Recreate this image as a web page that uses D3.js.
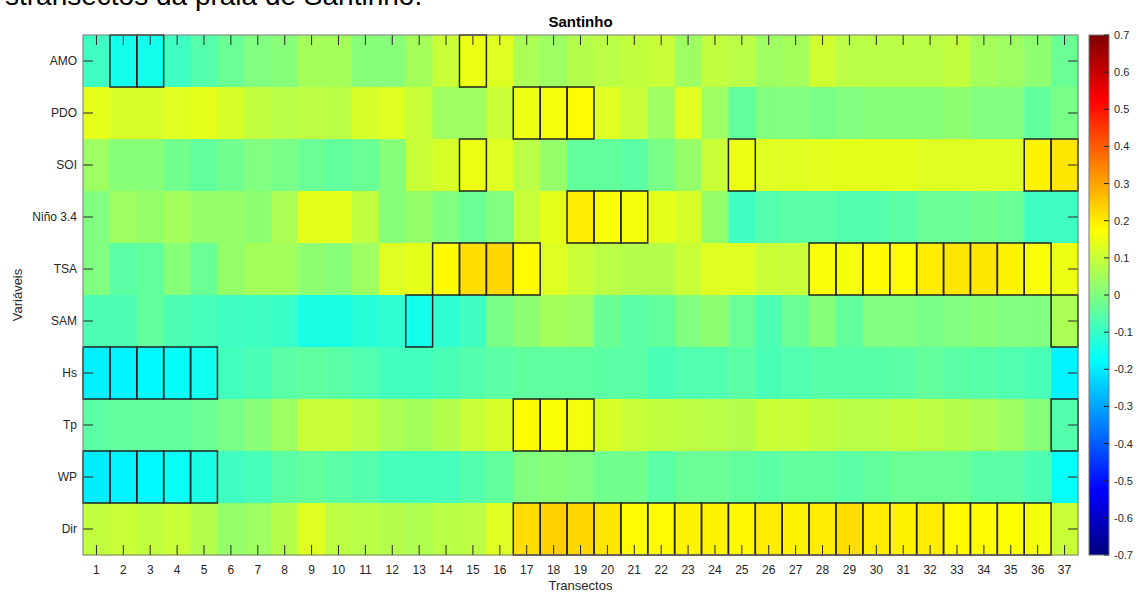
<!DOCTYPE html>
<html>
<head>
  <meta charset="utf-8">
  <title>Santinho</title>
  <script src="https://d3js.org/d3.v7.min.js"></script>
  <style>
    body { margin: 0; background: #fff; font-family: "Liberation Sans", Arial, sans-serif; }
    text { fill: #262626; }
  </style>
</head>
<body>
  <div id="chart"></div>
  <script>
    // Correlation values per variable, transect 1..37
    const transects = d3.range(1, 38);
    const variables = ["AMO", "PDO", "SOI", "Niño 3.4", "TSA", "SAM", "Hs", "Tp", "WP", "Dir"];

    const amo = [-0.09, -0.15, -0.15, -0.09, -0.06, -0.03, 0.00, 0.01, 0.05, 0.05, 0.01, 0.01, 0.05,
                 0.10, 0.15, 0.13, 0.06, 0.04, 0.07, 0.08, 0.09, 0.10, 0.04, 0.09, 0.08,
                 0.04, 0.05, 0.11, 0.08, 0.08, 0.08, 0.08, 0.09, 0.05, 0.04, 0.02, -0.03];
    const pdo = [0.14, 0.12, 0.12, 0.13, 0.14, 0.12, 0.09, 0.08, 0.085, 0.08, 0.12, 0.13, 0.10,
                 0.04, 0.04, 0.10, 0.15, 0.16, 0.18, 0.13, 0.10, 0.04, 0.13, 0.04, -0.04,
                 0.00, 0.00, -0.01, 0.00, 0.01, 0.01, 0.01, 0.02, 0.00, 0.00, -0.04, -0.01];
    const soi = [0.04, 0.01, 0.01, -0.02, -0.04, -0.02, 0.00, -0.01, -0.03, -0.04, -0.03, 0.01, 0.10,
                 0.12, 0.15, 0.13, 0.08, 0.03, -0.04, -0.04, -0.05, -0.01, 0.03, 0.10, 0.15,
                 0.13, 0.13, 0.135, 0.14, 0.14, 0.14, 0.13, 0.13, 0.13, 0.13, 0.19, 0.21];
    const nino34 = [0.00, 0.04, 0.03, 0.05, 0.03, 0.03, 0.02, 0.06, 0.14, 0.14, 0.09, 0.01, 0.03,
                    0.00, -0.03, 0.00, 0.10, 0.14, 0.20, 0.165, 0.16, 0.14, 0.12, 0.03, -0.09,
                    -0.06, -0.05, -0.05, -0.06, -0.06, -0.05, -0.03, -0.03, -0.02, -0.03, -0.09, -0.09];
    const tsa = [0.00, -0.05, -0.04, 0.01, -0.03, 0.03, 0.05, 0.05, 0.02, 0.01, 0.04, 0.13, 0.14,
                 0.18, 0.22, 0.23, 0.18, 0.13, 0.10, 0.08, 0.07, 0.07, 0.10, 0.13, 0.13,
                 0.10, 0.10, 0.165, 0.16, 0.18, 0.18, 0.20, 0.21, 0.21, 0.19, 0.165, 0.15];
    const sam = [-0.07, -0.07, -0.04, -0.07, -0.08, -0.09, -0.09, -0.10, -0.14, -0.14, -0.12, -0.11, -0.15,
                 -0.11, -0.09, -0.01, 0.02, 0.05, 0.04, -0.03, -0.05, -0.04, 0.00, 0.02, -0.03,
                 -0.07, -0.03, 0.01, -0.04, 0.00, 0.00, -0.01, 0.00, 0.01, 0.00, 0.00, 0.06];
    const hs = [-0.195, -0.19, -0.18, -0.17, -0.155, -0.085, -0.075, -0.05, -0.045, -0.05, -0.065, -0.085, -0.085,
                -0.075, -0.06, -0.05, -0.045, -0.045, -0.045, -0.05, -0.05, -0.075, -0.065, -0.065, -0.05,
                -0.075, -0.065, -0.055, -0.055, -0.055, -0.05, -0.04, -0.05, -0.055, -0.065, -0.075, -0.19];
    const tp = [-0.05, -0.04, -0.04, -0.04, -0.03, -0.01, 0.01, 0.04, 0.10, 0.10, 0.085, 0.06, 0.05,
                0.07, 0.10, 0.12, 0.18, 0.17, 0.16, 0.12, 0.10, 0.09, 0.085, 0.08, 0.07,
                0.10, 0.10, 0.09, 0.08, 0.08, 0.09, 0.085, 0.07, 0.06, 0.04, 0.01, -0.06];
    const wp = [-0.20, -0.19, -0.18, -0.165, -0.14, -0.09, -0.08, -0.05, -0.04, -0.05, -0.06, -0.08, -0.08,
                -0.08, -0.06, -0.04, 0.00, 0.01, 0.00, -0.02, -0.02, -0.05, -0.03, -0.03, -0.04,
                -0.05, -0.04, -0.04, -0.05, -0.04, -0.03, -0.03, -0.03, -0.05, -0.05, -0.07, -0.17];
    const dir = [0.09, 0.10, 0.09, 0.10, 0.07, 0.03, 0.04, 0.07, 0.13, 0.085, 0.08, 0.07, 0.065,
                 0.08, 0.085, 0.13, 0.22, 0.24, 0.23, 0.21, 0.18, 0.18, 0.19, 0.19, 0.185,
                 0.20, 0.19, 0.20, 0.22, 0.20, 0.19, 0.20, 0.18, 0.18, 0.175, 0.16, 0.10];

    // transects outlined as significant
    const signif = {
      "AMO": [2, 3, 15],
      "PDO": [17, 18, 19],
      "SOI": [15, 25, 36, 37],
      "Niño 3.4": [19, 20, 21],
      "TSA": [14, 15, 16, 17, 28, 29, 30, 31, 32, 33, 34, 35, 36],
      "SAM": [13, 37],
      "Hs": [1, 2, 3, 4, 5],
      "Tp": [17, 18, 19, 37],
      "WP": [1, 2, 3, 4, 5],
      "Dir": d3.range(17, 37)
    };

    const colorTicks = d3.range(-7, 8).map(d => d / 10);

    const series = [amo, pdo, soi, nino34, tsa, sam, hs, tp, wp, dir];
    const cells = [];
    variables.forEach((v, i) => {
      series[i].forEach((val, j) => {
        cells.push({ variable: v, transect: transects[j], value: val, sig: signif[v].includes(transects[j]) });
      });
    });

    // MATLAB jet
    function jet(t) {
      const clamp = x => Math.max(0, Math.min(1, x));
      const r = clamp(Math.min(4 * t - 1.5, -4 * t + 4.5));
      const g = clamp(Math.min(4 * t - 0.5, -4 * t + 3.5));
      const b = clamp(Math.min(4 * t + 0.5, -4 * t + 2.5));
      return d3.rgb(r * 255, g * 255, b * 255).toString();
    }

    const width = 1139, height = 594;
    const margin = { left: 83, right: 61, top: 35, bottom: 39 };
    const x0 = margin.left, x1 = width - margin.right;
    const y0 = margin.top, y1 = height - margin.bottom;

    const svg = d3.select("#chart").append("svg")
      .attr("width", width).attr("height", height)
      .style("font-family", "'Liberation Sans', Arial, sans-serif");

    svg.append("rect").attr("width", width).attr("height", height).attr("fill", "#fff");

    const x = d3.scaleBand().domain(transects).range([x0, x1]);
    const y = d3.scaleBand().domain(variables).range([y0, y1]);
    const color = d3.scaleSequential(jet).domain([-0.7, 0.7]);

    // cells
    svg.append("g").selectAll("rect")
      .data(cells).join("rect")
      .attr("x", d => x(d.transect))
      .attr("y", d => y(d.variable))
      .attr("width", x.bandwidth() + 0.5)
      .attr("height", y.bandwidth() + 0.5)
      .attr("fill", d => color(d.value));

    // significant outlines
    svg.append("g").selectAll("rect")
      .data(cells.filter(d => d.sig)).join("rect")
      .attr("x", d => x(d.transect))
      .attr("y", d => y(d.variable))
      .attr("width", x.bandwidth())
      .attr("height", y.bandwidth())
      .attr("fill", "none")
      .attr("stroke", "#222")
      .attr("stroke-width", 1.5);

    // axes (ticks inward, box)
    const tickLen = 10;
    const xTickG = svg.append("g").attr("stroke", "#262626");
    transects.forEach(t => {
      const cx = x(t) + x.bandwidth() / 2;
      xTickG.append("line").attr("x1", cx).attr("x2", cx).attr("y1", y1).attr("y2", y1 - tickLen);
      xTickG.append("line").attr("x1", cx).attr("x2", cx).attr("y1", y0).attr("y2", y0 + tickLen);
    });
    variables.forEach(v => {
      const cy = y(v) + y.bandwidth() / 2;
      xTickG.append("line").attr("x1", x0).attr("x2", x0 + tickLen).attr("y1", cy).attr("y2", cy);
      xTickG.append("line").attr("x1", x1).attr("x2", x1 - tickLen).attr("y1", cy).attr("y2", cy);
    });

    svg.append("rect")
      .attr("x", x0).attr("y", y0).attr("width", x1 - x0).attr("height", y1 - y0)
      .attr("fill", "none").attr("stroke", "#7a7a7a").attr("stroke-width", 1);

    svg.append("g").selectAll("text")
      .data(transects).join("text")
      .attr("x", d => x(d) + x.bandwidth() / 2)
      .attr("y", y1 + 19)
      .attr("text-anchor", "middle")
      .style("font-size", "12px")
      .text(d => d);

    svg.append("g").selectAll("text")
      .data(variables).join("text")
      .attr("x", x0 - 6)
      .attr("y", d => y(d) + y.bandwidth() / 2 + 4)
      .attr("text-anchor", "end")
      .style("font-size", "12px")
      .text(d => d);

    svg.append("text")
      .attr("x", (x0 + x1) / 2).attr("y", 590)
      .attr("text-anchor", "middle")
      .style("font-size", "13px")
      .text("Transectos");

    svg.append("text")
      .attr("transform", `translate(22,${(y0 + y1) / 2}) rotate(-90)`)
      .attr("text-anchor", "middle")
      .style("font-size", "13px")
      .text("Variáveis");

    svg.append("text")
      .attr("x", (x0 + x1) / 2).attr("y", 27)
      .attr("text-anchor", "middle")
      .style("font-size", "15px")
      .style("font-weight", "bold")
      .style("fill", "#000")
      .text("Santinho");

    // caption cut off at the top of the picture
    svg.append("text")
      .attr("x", 5).attr("y", 5)
      .style("font-size", "28px")
      .style("fill", "#000")
      .text("stransectos da praia de Santinho.");

    // colorbar
    const cbX = 1089, cbW = 20;
    const cy = d3.scaleLinear().domain([-0.7, 0.7]).range([y1, y0]);
    const defs = svg.append("defs");
    const grad = defs.append("linearGradient").attr("id", "jetgrad")
      .attr("x1", 0).attr("y1", 1).attr("x2", 0).attr("y2", 0);
    d3.range(0, 1.0001, 1 / 64).forEach(t => {
      grad.append("stop").attr("offset", t).attr("stop-color", jet(t));
    });
    svg.append("rect")
      .attr("x", cbX).attr("y", y0).attr("width", cbW).attr("height", y1 - y0)
      .attr("fill", "url(#jetgrad)")
      .attr("stroke", "#7a7a7a").attr("stroke-width", 1);

    const fmt = d => d === 0 ? "0" : d.toFixed(1);
    const cbG = svg.append("g");
    colorTicks.forEach(v => {
      cbG.append("line")
        .attr("x1", cbX + cbW - 5).attr("x2", cbX + cbW)
        .attr("y1", cy(v)).attr("y2", cy(v))
        .attr("stroke", "#262626");
      cbG.append("text")
        .attr("x", cbX + cbW + 5).attr("y", cy(v) + 4)
        .style("font-size", "11px")
        .text(fmt(v));
    });
  </script>
</body>
</html>
